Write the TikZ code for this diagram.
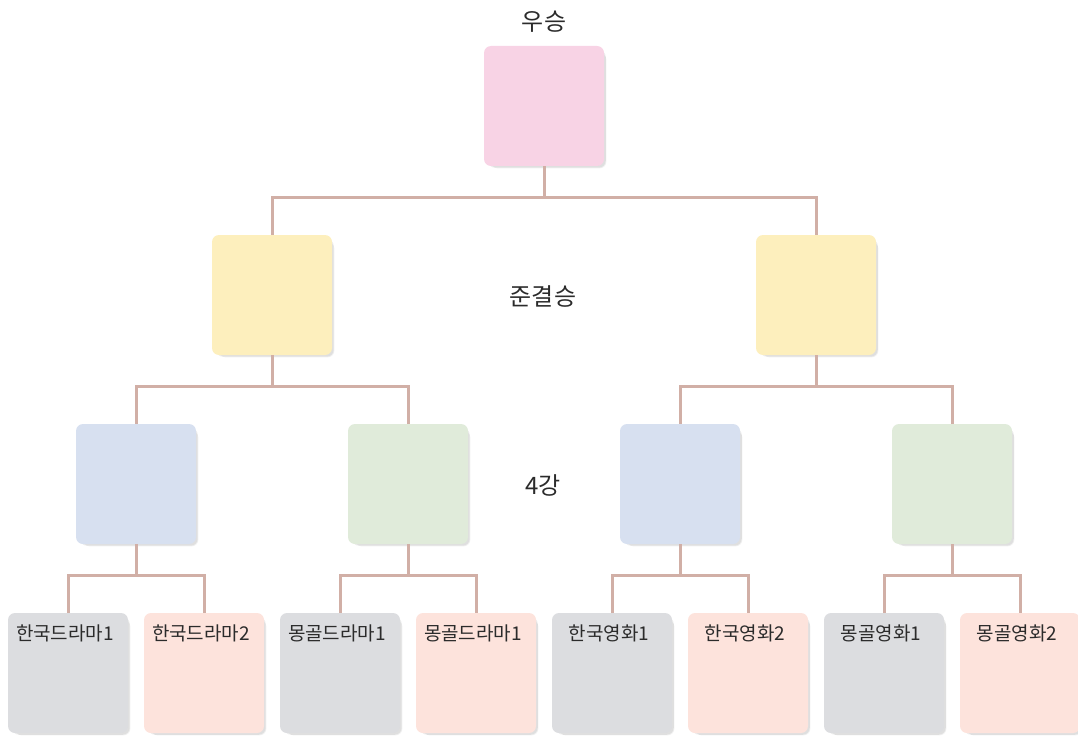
\documentclass[tikz,border=0pt]{standalone}
\usepackage{fontspec}
\setmainfont{Noto Sans CJK KR}
\usetikzlibrary{shadows}

\definecolor{winpink}{HTML}{F8D3E5}
\definecolor{semiyellow}{HTML}{FDEFBD}
\definecolor{quarterblue}{HTML}{D7E0F0}
\definecolor{quartergreen}{HTML}{E0EBDA}
\definecolor{leafgray}{HTML}{DCDDE0}
\definecolor{leafpeach}{HTML}{FDE3DC}
\definecolor{linkline}{HTML}{D1AFA6}
\definecolor{tagtext}{HTML}{2B2B2B}

\begin{document}
\begin{tikzpicture}[%level distance=5mm,
        level distance=189pt,
        level 1/.style={sibling distance=544pt},
        level 2/.style={sibling distance=272pt},
        level 3/.style={sibling distance=136pt},
        edge from parent/.style={draw=linkline,line width=3pt},
        edge from parent path={(\tikzparentnode.south) -- ++(0,-31pt) -| (\tikzchildnode.north)},
        box/.style={rounded corners=7pt,minimum size=120pt,inner sep=0pt,
            drop shadow={shadow xshift=5pt,shadow yshift=-5pt,shadow scale=0.96,opacity=0.05,fill=black},
            drop shadow={shadow xshift=3pt,shadow yshift=-3pt,shadow scale=0.98,opacity=0.08,fill=black}},
        tag/.style={font=\fontsize{24}{28}\selectfont,text=tagtext},
        leaftag/.style={font=\fontsize{19}{23}\selectfont,text=tagtext,anchor=north,yshift=-12pt,xshift=-3pt,inner sep=0pt}]

    \useasboundingbox (0,0) rectangle (1078pt,-738pt);

    \node[tag] (wintag) at (544pt,-22pt) {우승};
    \node[tag] (semitag) at (543pt,-296pt) {준결승};
    \node[tag] (quartertag) at (543pt,-485pt) {4강};

    \node[box,fill=winpink] (win) at (544pt,-106pt) {}
    child   {node[box,fill=semiyellow] (semiA) {}
            child   {node[box,fill=quarterblue] (quarterA) {}
                    child   {node[box,fill=leafgray,label={[leaftag]north:한국드라마1}] (krdramaA) {}}
                    child   {node[box,fill=leafpeach,label={[leaftag]north:한국드라마2}] (krdramaB) {}}}
            child   {node[box,fill=quartergreen] (quarterB) {}
                    child   {node[box,fill=leafgray,label={[leaftag]north:몽골드라마1}] (mndramaA) {}}
                    child   {node[box,fill=leafpeach,label={[leaftag]north:몽골드라마1}] (mndramaB) {}}}}
    child   {node[box,fill=semiyellow] (semiB) {}
            child   {node[box,fill=quarterblue] (quarterC) {}
                    child   {node[box,fill=leafgray,label={[leaftag]north:한국영화1}] (krfilmA) {}}
                    child   {node[box,fill=leafpeach,label={[leaftag]north:한국영화2}] (krfilmB) {}}}
            child   {node[box,fill=quartergreen] (quarterD) {}
                    child   {node[box,fill=leafgray,label={[leaftag]north:몽골영화1}] (mnfilmA) {}}
                    child   {node[box,fill=leafpeach,label={[leaftag]north:몽골영화2}] (mnfilmB) {}}}};
\end{tikzpicture}
\end{document}
